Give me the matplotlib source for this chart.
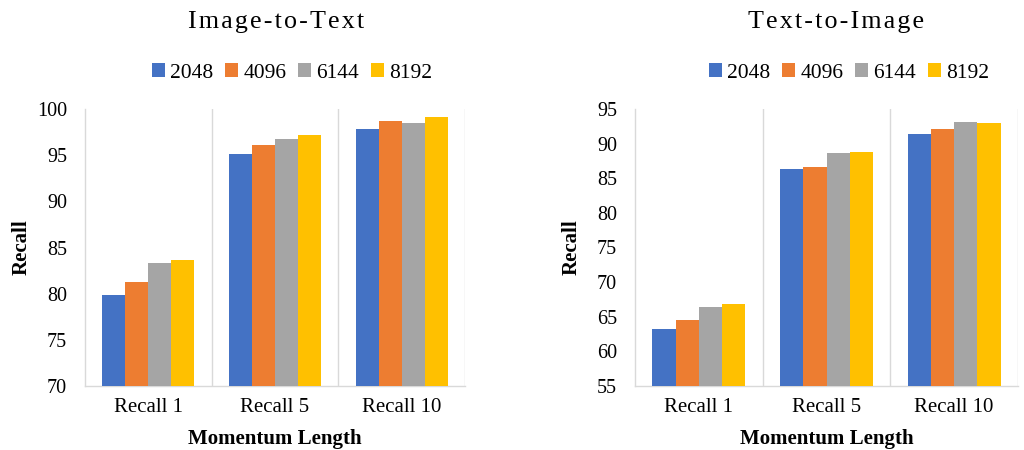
import matplotlib
matplotlib.use("Agg")
import matplotlib.pyplot as plt
import numpy as np

categories = ["Recall 1", "Recall 5", "Recall 10"]
series_labels = ["2048", "4096", "6144", "8192"]
colors = ["#4472C4", "#ED7D31", "#A5A5A5", "#FFC000"]

i2t_2048 = [79.9, 95.1, 97.8]
i2t_4096 = [81.3, 96.1, 98.7]
i2t_6144 = [83.3, 96.8, 98.5]
i2t_8192 = [83.7, 97.2, 99.1]

t2i_2048 = [63.2, 86.4, 91.4]
t2i_4096 = [64.5, 86.6, 92.1]
t2i_6144 = [66.4, 88.6, 93.1]
t2i_8192 = [66.9, 88.8, 93.0]

plt.rcParams['font.family'] = ['Liberation Serif', 'DejaVu Serif']

fig = plt.figure(figsize=(10.24, 4.5), dpi=100)

def spaced(s):
    return "\u200a".join(s)

def draw(rect, title, data, ylim, yticks, title_x, legend_x, ylabel_x):
    ax = fig.add_axes(rect)
    x = np.arange(len(categories))
    bw = 0.1815
    for i, (vals, lab, c) in enumerate(zip(data, series_labels, colors)):
        ax.bar(x + (i - 1.5) * bw, vals, width=bw, color=c, label=lab,
               linewidth=0, zorder=3)
    ax.set_xlim(-0.5, 2.5)
    ax.set_ylim(*ylim)
    ax.set_yticks(yticks)
    ax.set_yticklabels([str(t) for t in yticks], fontsize=14.5)
    ax.set_xticks(x)
    ax.set_xticklabels(categories, fontsize=15)
    ax.tick_params(axis='x', length=0, pad=9)
    ax.tick_params(axis='y', length=0, pad=13)
    for b in [0.5, 1.5, 2.5]:
        ax.axvline(b, color='#D9D9D9', linewidth=1, zorder=1)
    for s in ['top', 'right']:
        ax.spines[s].set_visible(False)
    for s in ['left', 'bottom']:
        ax.spines[s].set_color('#D9D9D9')
        ax.spines[s].set_linewidth(1)
    ax.set_ylabel("Recall", fontsize=15, fontweight='bold')
    ax.yaxis.label.set_va('center')
    ax.yaxis.set_label_coords(ylabel_x, 0.5)
    ax.set_xlabel("Momentum Length", fontsize=15, fontweight='bold', labelpad=8)
    fig.text(title_x, 1 - 22 / 450, spaced(title), ha='center', va='center', fontsize=18.7)
    handles, labels = ax.get_legend_handles_labels()
    fig.legend(handles, labels, loc='center', bbox_to_anchor=(legend_x, 1 - 73 / 450),
               ncol=4, frameon=False, fontsize=15.5, handlelength=0.6, handleheight=0.6,
               handletextpad=0.25, columnspacing=0.55, borderaxespad=0)
    return ax

draw([85 / 1024, 1 - 386 / 450, 380 / 1024, 277 / 450], "Image-to-Text",
     [i2t_2048, i2t_4096, i2t_6144, i2t_8192], (70, 100), [70, 75, 80, 85, 90, 95, 100],
     276 / 1024, 292 / 1024, -0.168)
draw([635 / 1024, 1 - 386 / 450, 383 / 1024, 277 / 450], "Text-to-Image",
     [t2i_2048, t2i_4096, t2i_6144, t2i_8192], (55, 95), [55, 60, 65, 70, 75, 80, 85, 90, 95],
     836 / 1024, 849 / 1024, -0.165)

fig.savefig("out.png", dpi=100)
